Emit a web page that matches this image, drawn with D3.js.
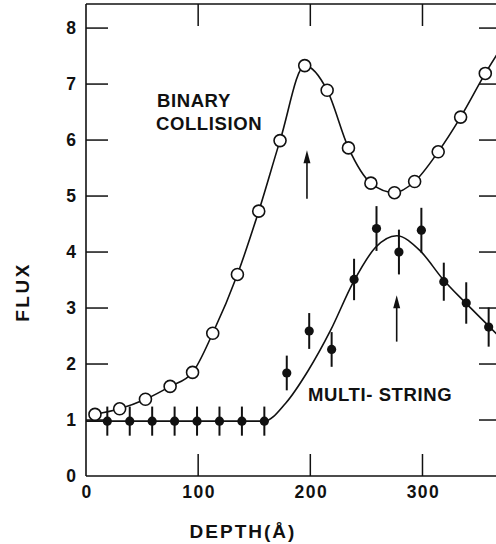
<!DOCTYPE html>
<html>
<head>
<meta charset="utf-8">
<script src="https://cdn.jsdelivr.net/npm/d3@7/dist/d3.min.js"></script>
<style>
  html, body { margin: 0; padding: 0; background: #fff; }
  svg { display: block; }
  text { font-family: "Liberation Sans", Arial, Helvetica, sans-serif; font-weight: bold; fill: #111; }
</style>
</head>
<body>
<svg id="chart" width="496" height="544"></svg>
<script>
// Binary-collision calculation (open circles)
const binaryDepth = [8, 30, 53, 75, 95, 113, 135, 154, 173, 195, 215, 234, 254, 275, 293, 314, 334, 356];
const binaryFlux  = [1.10, 1.20, 1.37, 1.60, 1.85, 2.55, 3.60, 4.73, 5.99, 7.33, 6.89, 5.86, 5.23, 5.06, 5.26, 5.79, 6.41, 7.19];
// continuation of the binary-collision curve past the last circle
const binaryTailDepth = [380];
const binaryTailFlux  = [7.95];

// Multi-string measurements (filled dots with error bars)
const multiDepth = [19, 39, 59, 79, 99, 119, 139, 159, 179, 199, 219, 239, 259, 279, 299, 319, 339, 359];
const multiFlux  = [0.98, 0.98, 0.98, 0.98, 0.98, 0.98, 0.98, 0.98, 1.84, 2.59, 2.26, 3.51, 4.42, 4.00, 4.39, 3.47, 3.09, 2.66];
const multiErr   = [0.26, 0.26, 0.26, 0.26, 0.26, 0.26, 0.26, 0.26, 0.31, 0.32, 0.31, 0.37, 0.40, 0.40, 0.40, 0.34, 0.37, 0.35];

// Multi-string model curve
const multiFitDepth = [0, 140, 159, 178, 198, 218, 238, 258, 277, 298, 318, 338, 358, 380];
const multiFitFlux  = [0.98, 0.98, 0.98, 1.30, 1.88, 2.60, 3.45, 4.08, 4.29, 4.02, 3.52, 3.10, 2.70, 2.25];

// Arrows marking the peak depths
const arrowDepth = [197, 277];
const arrowFrom  = [4.95, 2.40];
const arrowTo    = [5.82, 3.23];

// Axis ticks
const xTicks = [0, 100, 200, 300];
const yTicks = [0, 1, 2, 3, 4, 5, 6, 7, 8];

const svg = d3.select("#chart");
const plotL = 86, plotR = 501, plotT = 4, plotB = 476;

const x = d3.scaleLinear().domain([0, 370]).range([plotL, plotR]);
const y = d3.scaleLinear().domain([0, 8.43]).range([plotB, plotT]);

const ink = "#111";
const tickLen = 22;

// Frame
const frame = svg.append("g").attr("stroke", ink).attr("stroke-width", 1.6).attr("fill", "none");
frame.append("line").attr("x1", plotL).attr("x2", plotL).attr("y1", plotT).attr("y2", plotB);
frame.append("line").attr("x1", plotL).attr("x2", plotR).attr("y1", plotB).attr("y2", plotB);
frame.append("line").attr("x1", plotL).attr("x2", plotR).attr("y1", plotT).attr("y2", plotT);
frame.append("line").attr("x1", plotR).attr("x2", plotR).attr("y1", plotT).attr("y2", plotB);

// Inward ticks on all four sides
const tk = svg.append("g").attr("stroke", ink).attr("stroke-width", 1.5);
yTicks.filter(v => v > 0).forEach(v => {
  tk.append("line").attr("x1", plotL).attr("x2", plotL + tickLen).attr("y1", y(v)).attr("y2", y(v));
  tk.append("line").attr("x1", plotR).attr("x2", plotR - tickLen).attr("y1", y(v)).attr("y2", y(v));
});
xTicks.filter(v => v > 0).forEach(v => {
  tk.append("line").attr("x1", x(v)).attr("x2", x(v)).attr("y1", plotB).attr("y2", plotB - tickLen);
  tk.append("line").attr("x1", x(v)).attr("x2", x(v)).attr("y1", plotT).attr("y2", plotT + tickLen);
});

// Tick labels
svg.append("g").selectAll("text").data(yTicks).join("text")
  .attr("x", plotL - 10).attr("y", d => y(d)).attr("dy", "0.36em")
  .attr("text-anchor", "end").attr("font-size", 17.5)
  .text(d => d);
svg.append("g").selectAll("text").data(xTicks).join("text")
  .attr("x", d => x(d) + 1).attr("y", 498)
  .attr("text-anchor", "middle").attr("font-size", 17.5).attr("letter-spacing", 1.5)
  .text(d => d);

// Axis titles
svg.append("text").attr("transform", "translate(29,292) rotate(-90)")
  .attr("text-anchor", "middle").attr("font-size", 19).attr("letter-spacing", 2.5)
  .text("FLUX");
svg.append("text").attr("x", 243).attr("y", 538)
  .attr("text-anchor", "middle").attr("font-size", 19).attr("letter-spacing", 2)
  .text("DEPTH(Å)");

// Curves
const line = d3.line().x(d => x(d[0])).y(d => y(d[1])).curve(d3.curveMonotoneX);
const plot = svg.append("g");
plot.append("clipPath").attr("id", "clip").append("rect")
  .attr("x", plotL).attr("y", plotT).attr("width", plotR - plotL).attr("height", plotB - plotT);
const curves = plot.append("g").attr("clip-path", "url(#clip)").attr("fill", "none")
  .attr("stroke", ink).attr("stroke-width", 1.6);

const binaryPts = binaryDepth.map((d, i) => [d, binaryFlux[i]])
  .concat(binaryTailDepth.map((d, i) => [d, binaryTailFlux[i]]));
curves.append("path").attr("d", line(binaryPts));
curves.append("path").attr("d", line(multiFitDepth.map((d, i) => [d, multiFitFlux[i]])));

// Multi-string error bars and dots
const ms = multiDepth.map((d, i) => ({ d, f: multiFlux[i], e: multiErr[i] }));
const msG = plot.append("g").attr("clip-path", "url(#clip)");
msG.selectAll("line.err").data(ms).join("line").attr("class", "err")
  .attr("x1", p => x(p.d)).attr("x2", p => x(p.d))
  .attr("y1", p => y(p.f - p.e)).attr("y2", p => y(p.f + p.e))
  .attr("stroke", ink).attr("stroke-width", 2);
msG.selectAll("circle").data(ms).join("circle")
  .attr("cx", p => x(p.d)).attr("cy", p => y(p.f)).attr("r", 4.6)
  .attr("fill", ink);

// Binary-collision open circles
plot.append("g").attr("clip-path", "url(#clip)").selectAll("circle")
  .data(binaryDepth.map((d, i) => ({ d, f: binaryFlux[i] }))).join("circle")
  .attr("cx", p => x(p.d)).attr("cy", p => y(p.f)).attr("r", 6)
  .attr("fill", "#fff").attr("stroke", ink).attr("stroke-width", 1.6);

// Arrows
const arr = svg.append("g");
arrowDepth.forEach((d, i) => {
  const ax = x(d), y0 = y(arrowFrom[i]), y1 = y(arrowTo[i]);
  arr.append("line").attr("x1", ax).attr("x2", ax).attr("y1", y0).attr("y2", y1 + 10)
    .attr("stroke", ink).attr("stroke-width", 1.6);
  arr.append("path")
    .attr("d", `M${ax},${y1} L${ax - 3.5},${y1 + 13} L${ax + 3.5},${y1 + 13} Z`)
    .attr("fill", ink);
});

// Series labels
const lab = svg.append("g").attr("font-size", 18.5).attr("letter-spacing", 0.6);
lab.append("text").attr("x", 157).attr("y", 107).text("BINARY");
lab.append("text").attr("x", 156).attr("y", 130).text("COLLISION");
lab.append("text").attr("x", 308).attr("y", 401).text("MULTI- STRING");
</script>
</body>
</html>
